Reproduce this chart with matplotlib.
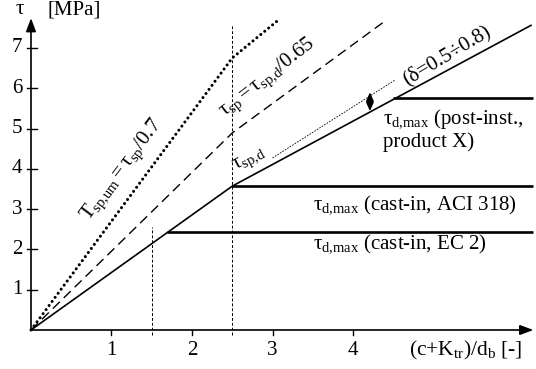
import matplotlib
matplotlib.use("Agg")
import matplotlib.pyplot as plt

plt.rcParams['font.family'] = ['Liberation Serif', 'DejaVu Serif']
plt.rcParams['mathtext.fontset'] = 'custom'
plt.rcParams['mathtext.rm'] = 'Liberation Serif'
plt.rcParams['mathtext.it'] = 'Liberation Serif:italic'

# ---- data ----
solid_x = [0.0, 2.5, 6.22]
solid_y = [0.0, 3.57, 7.57]
dashed_x = [0.0, 2.5, 4.40]
dashed_y = [0.0, 4.89, 7.67]
dotted_x = [0.0, 2.5, 3.09]
dotted_y = [0.0, 6.75, 7.72]
delta_x = [3.0, 4.52]
delta_y = [4.27, 6.20]
limit_y = [2.43, 3.57, 5.75]
limit_x0 = [1.69, 2.5, 4.5]
limit_x1 = 6.24
vline_x = [1.5, 2.5]
vline_top = [2.55, 7.57]
arrow_x = 4.21
arrow_y = [5.43, 5.90]
xticks = [1, 2, 3, 4]
yticks = [1, 2, 3, 4, 5, 6, 7]
x_end, y_end = 6.24, 7.74

fig = plt.figure(figsize=(5.36, 3.69), dpi=100)
ax = fig.add_axes([0, 0, 1, 1])
ax.set_xlim(-0.385, 6.273)
ax.set_ylim(-0.968, 8.189)
ax.axis('off')

FS = 15

# axes with arrows
ax.annotate('', xy=(x_end, 0), xytext=(0, 0),
            arrowprops=dict(arrowstyle='-|>,head_length=0.8,head_width=0.3', lw=1.2, color='k',
                            shrinkA=0, shrinkB=0))
ax.annotate('', xy=(0, y_end), xytext=(0, 0),
            arrowprops=dict(arrowstyle='-|>,head_length=0.8,head_width=0.3', lw=1.2, color='k',
                            shrinkA=0, shrinkB=0))
for t in xticks:
    ax.plot([t, t], [0, -0.13], color='k', lw=1.0)
    ax.text(t, -0.5, str(t), ha='center', va='center', fontsize=FS)
for t in yticks:
    ax.plot([-0.05, 0.07], [t, t], color='k', lw=1.0)
    ax.text(-0.11, t, str(t), ha='right', va='center', fontsize=FS)

ax.text(-0.14, 7.95, 'τ', ha='center', va='center', fontsize=FS)
ax.text(0.21, 7.95, '[MPa]', ha='left', va='center', fontsize=FS)
ax.text(5.40, -0.5, r'(c+K$_{\mathrm{tr}}$)/d$_{\mathrm{b}}$ [-]', ha='center', va='center', fontsize=FS + 0.5)

# vertical guides
for vx, vt in zip(vline_x, vline_top):
    ax.plot([vx, vx], [-0.12, vt], color='k', lw=0.7, linestyle=(0, (3, 2)))

# curves
ax.plot(solid_x, solid_y, color='k', lw=1.2, solid_capstyle='butt')
ax.plot(dashed_x, dashed_y, color='k', lw=1.0, linestyle=(0, (7, 4)))
ax.plot(dotted_x, dotted_y, color='k', lw=2.2, linestyle=(0, (0.01, 1.65)), dash_capstyle='round')
ax.plot(delta_x, delta_y, color='k', lw=0.6, linestyle=(0, (2, 1.5)))

for ly, lx0 in zip(limit_y, limit_x0):
    ax.plot([lx0, limit_x1], [ly, ly], color='k', lw=1.9, solid_capstyle='butt')

ax.annotate('', xy=(arrow_x, arrow_y[1]), xytext=(arrow_x, arrow_y[0]),
            arrowprops=dict(arrowstyle='<|-|>,head_length=0.5,head_width=0.22', lw=1.2, color='k',
                            shrinkA=0, shrinkB=0))

# labels
sub_dmax = r'$\mathrm{τ_{d{,}max}}$'
ax.text(3.5, 3.0, sub_dmax + ' (cast-in, ACI 318)', ha='left', va='baseline', fontsize=FS)
ax.text(3.5, 2.03, sub_dmax + ' (cast-in, EC 2)', ha='left', va='baseline', fontsize=FS)
ax.text(4.37, 4.55, sub_dmax + ' (post-inst.,\nproduct X)', ha='left', va='baseline',
        fontsize=FS, linespacing=1.05)

ax.text(1.14, 3.97, r'$\mathrm{Τ_{sp{,}um}{=}τ_{sp}/0.7}$', ha='center', va='center',
        fontsize=FS, rotation=53, rotation_mode='anchor')
ax.text(2.94, 6.25, r'$\mathrm{τ_{sp}{=}τ_{sp{,}d}/0.65}$', ha='center', va='center',
        fontsize=FS, rotation=38, rotation_mode='anchor')
ax.text(2.72, 4.22, r'$\mathrm{τ_{sp{,}d}}$', ha='center', va='center',
        fontsize=FS, rotation=28, rotation_mode='anchor')
ax.text(5.16, 6.80, '(δ=0.5÷0.8)', ha='center', va='center',
        fontsize=FS, rotation=31, rotation_mode='anchor')

fig.savefig('out.png', dpi=100)
